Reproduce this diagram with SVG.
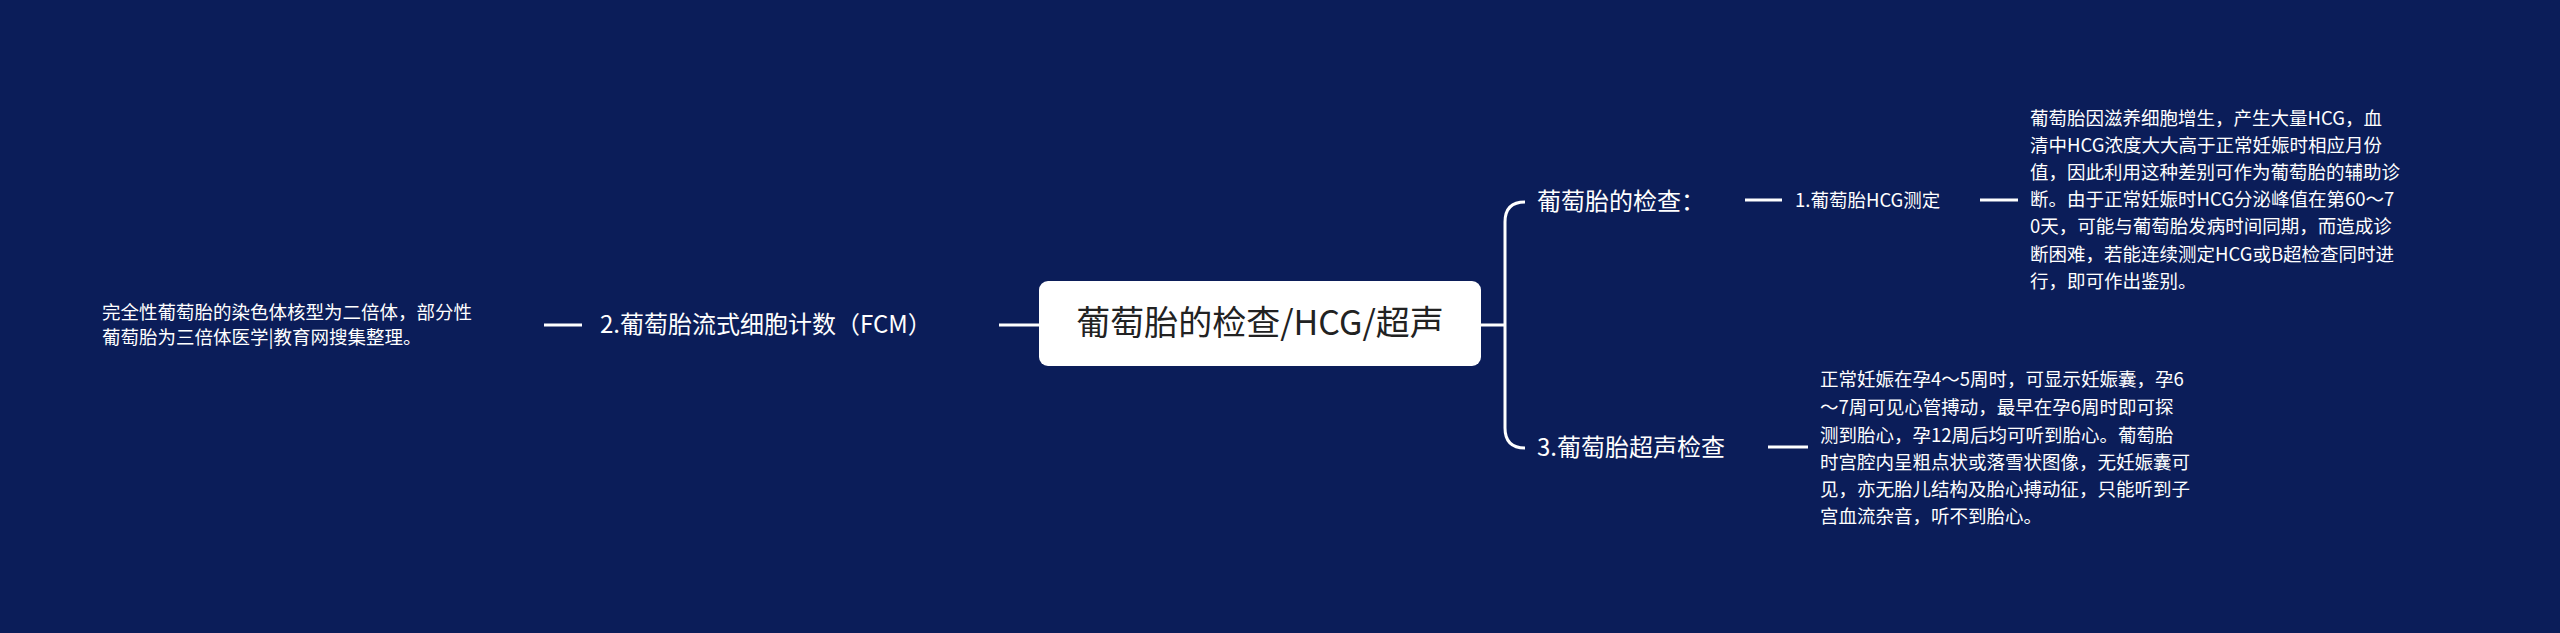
<svg xmlns="http://www.w3.org/2000/svg" width="2560" height="633" viewBox="0 0 2560 633">
<style>
text{font-family:"Noto Sans CJK SC","Noto Sans",sans-serif;fill:#fff}
.l{stroke:#fff;stroke-width:3;fill:none}
.s{font-size:18.5px}
.m{font-size:24px}
</style>
<rect width="2560" height="633" fill="#0b1d59"/>
<g id="connectors">
<path class="l" d="M1040 325H999"/>
<path class="l" d="M582 325H544"/>
<path class="l" d="M1481 325H1505M1525 202Q1505 202 1505 222V428Q1505 448 1525 448"/>
<path class="l" d="M1745 200H1782"/>
<path class="l" d="M1980 200H2018"/>
<path class="l" d="M1768 447H1808"/>
</g>
<g id="root">
<rect x="1039" y="281" width="442" height="85" rx="9" fill="#fff"/>
<text x="1260" y="335" text-anchor="middle" font-size="34" style="fill:#222">葡萄胎的检查/HCG/超声</text>
</g>
<g id="n2"><text class="m" x="600" y="333">2.葡萄胎流式细胞计数（FCM）</text></g>
<g id="n2a"><text class="s" x="102" y="319">完全性葡萄胎的染色体核型为二倍体，部分性</text><text class="s" x="102" y="344">葡萄胎为三倍体医学|教育网搜集整理。</text></g>
<g id="n1"><text class="m" x="1537" y="210">葡萄胎的检查：</text></g>
<g id="n11"><text class="s" x="1795" y="207">1.葡萄胎HCG测定</text></g>
<g id="n11a" class="s">
<text x="2030" y="125">葡萄胎因滋养细胞增生，产生大量HCG，血</text>
<text x="2030" y="152">清中HCG浓度大大高于正常妊娠时相应月份</text>
<text x="2030" y="179">值，因此利用这种差别可作为葡萄胎的辅助诊</text>
<text x="2030" y="206">断。由于正常妊娠时HCG分泌峰值在第60～7</text>
<text x="2030" y="233">0天，可能与葡萄胎发病时间同期，而造成诊</text>
<text x="2030" y="261">断困难，若能连续测定HCG或B超检查同时进</text>
<text x="2030" y="288">行，即可作出鉴别。</text>
</g>
<g id="n3"><text class="m" x="1537" y="456">3.葡萄胎超声检查</text></g>
<g id="n3a" class="s">
<text x="1820" y="386">正常妊娠在孕4～5周时，可显示妊娠囊，孕6</text>
<text x="1820" y="414">～7周可见心管搏动，最早在孕6周时即可探</text>
<text x="1820" y="442">测到胎心，孕12周后均可听到胎心。葡萄胎</text>
<text x="1820" y="469">时宫腔内呈粗点状或落雪状图像，无妊娠囊可</text>
<text x="1820" y="496">见，亦无胎儿结构及胎心搏动征，只能听到子</text>
<text x="1820" y="523">宫血流杂音，听不到胎心。</text>
</g>
</svg>
